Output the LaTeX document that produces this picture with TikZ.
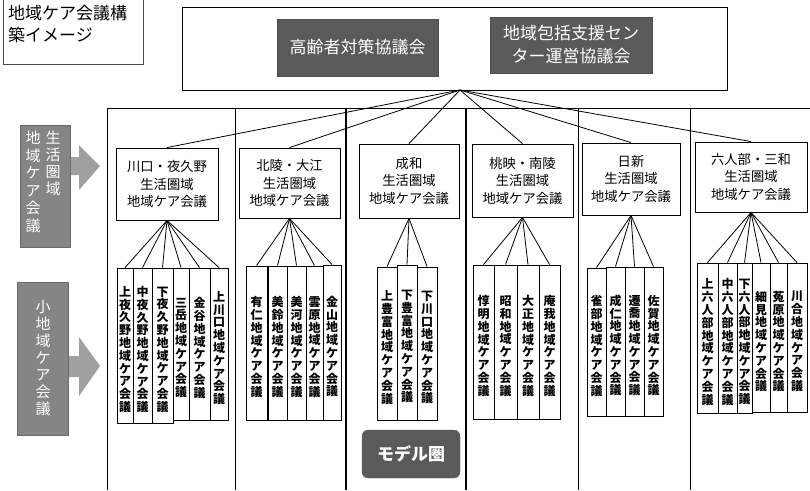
\documentclass[tikz,border=0pt]{standalone}
\usepackage{fontspec}
\setmainfont{Noto Sans CJK JP}
\makeatletter
\newcommand\vstack[3]{\vbox{\kern#1\baselineskip=#2\lineskiplimit=-20pt\lineskip=0pt\@tfor\vch:=#3\do{\hbox to 1em{\hss\vch\hss}}}}
\makeatother
\definecolor{darkbox}{HTML}{5A5A5A}
\definecolor{labelgray}{HTML}{858585}
\definecolor{arrowgray}{HTML}{A0A0A0}
\tikzset{
  leaf/.style={draw, line width=0.9pt, inner sep=0pt, font=\fontsize{12}{13}\selectfont\bfseries},
  midbox/.style={draw, line width=0.9pt, inner sep=0pt, align=center, font=\fontsize{13.3}{17.5}\selectfont},
  darkbox/.style={draw=black!70, fill=darkbox, text=white, inner sep=0pt, align=center, font=\fontsize{17}{23}\selectfont},
  labelbox/.style={fill=labelgray, draw=labelgray!80!black, inner sep=0pt},
  labeltext/.style={text=white, inner sep=0pt, font=\fontsize{15}{17}\selectfont},
  frame/.style={line width=0.8pt},
  conn/.style={line width=0.8pt}
}
\newcommand\leafbox[6]{\node[leaf, minimum width={#3pt-#2pt}, minimum height={#5pt-#4pt}] (#1) at ({(#2+#3)/2},{(#4+#5)/2}) {\vstack{8pt}{12.8pt}{#6}};}
\begin{document}
\begin{tikzpicture}[x=1pt,y=-1pt]
\useasboundingbox (0,0) rectangle (810,490);
\fill[white] (0,0) rectangle (810,490);

% title box
\draw[line width=0.6pt, black!70] (3,-2) rectangle (143,64);
\node[anchor=west, inner sep=0pt, font=\fontsize{17}{22}\selectfont] (title1) at (8,13) {地域ケア会議構};
\node[anchor=west, inner sep=0pt, font=\fontsize{17}{22}\selectfont] (title2) at (8,35) {築イメージ};

% top box
\node[draw, line width=0.9pt, minimum width=545pt, minimum height=83pt] (topbox) at (454.5,48.5) {};
\node[darkbox, minimum width=161pt, minimum height=57pt] (d1) at (357.5,47.5) {高齢者対策協議会};
\node[darkbox, minimum width=162pt, minimum height=56pt] (d2) at (571,45) {地域包括支援セン\\ター運営協議会};
\coordinate (apex) at (460,90);

% frame
\draw[frame] (107,108) -- (810,108);
\foreach \xx in {107,235,578,690} \draw[frame] (\xx,108) -- (\xx,490);
\foreach \xx in {346,466} \draw[line width=1.5pt] (\xx,108) -- (\xx,490);

% left labels
\fill[arrowgray] (69,157) -- (79,157) -- (79,145) -- (100,166) -- (79,190) -- (79,175) -- (69,175) -- cycle;
\fill[arrowgray] (67,356) -- (79,356) -- (79,337) -- (100,366) -- (79,396) -- (79,377) -- (67,377) -- cycle;
\node[labelbox, minimum width=50pt, minimum height=122pt] (lab1) at (45,186) {};
\node[labelbox, minimum width=51pt, minimum height=153pt] (lab2) at (42.5,358.5) {};
\node[labeltext, anchor=north] (lab1a) at (53,131) {\vstack{0pt}{17pt}{生活圏域}};
\node[labeltext, anchor=north] (lab1b) at (33,131) {\vstack{0pt}{17.5pt}{地域ケア会議}};
\node[labeltext] (lab2a) at (43,358) {\vstack{0pt}{17pt}{小地域ケア会議}};

% model label
\node[fill=darkbox, draw=black!60, rounded corners=6pt, minimum width=98pt, minimum height=48pt, text=white, inner sep=0pt, font=\fontsize{17}{20}\selectfont\bfseries] (model) at (411,454) {モデル圏};

% level 2 boxes
\node[midbox, minimum width=102pt, minimum height=72pt] (m1) at (167,184) {川口・夜久野\\生活圏域\\地域ケア会議};
\node[midbox, minimum width=101pt, minimum height=70pt] (m2) at (289.5,183) {北陵・大江\\生活圏域\\地域ケア会議};
\node[midbox, minimum width=100pt, minimum height=74pt] (m3) at (409,181) {成和\\生活圏域\\地域ケア会議};
\node[midbox, minimum width=101pt, minimum height=73pt] (m4) at (522.5,180.5) {桃映・南陵\\生活圏域\\地域ケア会議};
\node[midbox, minimum width=98pt, minimum height=72pt] (m5) at (631,179) {日新\\生活圏域\\地域ケア会議};
\node[midbox, minimum width=112pt, minimum height=70pt] (m6) at (751,177) {六人部・三和\\生活圏域\\地域ケア会議};
\foreach \m in {m1,m2,m3,m4,m5,m6} \draw[conn] (apex) -- (\m.north);

% column 1
\leafbox{a1}{117}{133}{268}{423}{上夜久野地域ケア会議}
\leafbox{a2}{133}{152}{268}{423}{中夜久野地域ケア会議}
\leafbox{a3}{152}{173}{268}{423}{下夜久野地域ケア会議}
\leafbox{a4}{173}{189}{268}{420}{三岳地域ケア会議}
\leafbox{a5}{189}{210}{268}{420}{金谷地域ケア会議}
\leafbox{a6}{210}{228}{268}{420}{上川口地域ケア会議}
\foreach \l in {a1,a2,a3,a4,a5,a6} \draw[conn] (m1.south) -- (\l.north);

% column 2
\leafbox{b1}{246}{267}{266}{420}{有仁地域ケア会議}
\leafbox{b2}{268}{287}{266}{420}{美鈴地域ケア会議}
\leafbox{b3}{287}{306}{266}{420}{美河地域ケア会議}
\leafbox{b4}{306}{323}{266}{420}{雲原地域ケア会議}
\leafbox{b5}{323}{341}{265}{420}{金山地域ケア会議}
\foreach \l in {b1,b2,b3,b4,b5} \draw[conn] (m2.south) -- (\l.north);

% column 3
\leafbox{c1}{377}{397}{267}{420}{上豊富地域ケア会議}
\leafbox{c2}{397}{417}{265}{420}{下豊富地域ケア会議}
\leafbox{c3}{417}{437}{267}{420}{下川口地域ケア会議}
\foreach \l in {c1,c2,c3} \draw[conn] (m3.south) -- (\l.north);

% column 4
\leafbox{e1}{473}{494}{265}{419}{惇明地域ケア会議}
\leafbox{e2}{494}{517}{265}{419}{昭和地域ケア会議}
\leafbox{e3}{517}{539}{265}{419}{大正地域ケア会議}
\leafbox{e4}{539}{560}{265}{419}{庵我地域ケア会議}
\foreach \l in {e1,e2,e3,e4} \draw[conn] (m4.south) -- (\l.north);

% column 5
\leafbox{f1}{587}{606}{268}{416}{雀部地域ケア会議}
\leafbox{f2}{606}{625}{267}{416}{成仁地域ケア会議}
\leafbox{f3}{625}{644}{267}{416}{遷喬地域ケア会議}
\leafbox{f4}{644}{663}{267}{416}{佐賀地域ケア会議}
\foreach \l in {f1,f2,f3,f4} \draw[conn] (m5.south) -- (\l.north);

% column 6
\leafbox{g1}{697}{718}{263}{413}{上六人部地域ケア会議}
\leafbox{g2}{718}{737}{263}{413}{中六人部地域ケア会議}
\leafbox{g3}{737}{752}{263}{413}{下六人部地域ケア会議}
\leafbox{g4}{752}{770}{263}{412}{細見地域ケア会議}
\leafbox{g5}{770}{787}{263}{412}{菟原地域ケア会議}
\leafbox{g6}{787}{807}{263}{412}{川合地域ケア会議}
\foreach \l in {g1,g2,g3,g4,g5,g6} \draw[conn] (m6.south) -- (\l.north);
\end{tikzpicture}
\end{document}
